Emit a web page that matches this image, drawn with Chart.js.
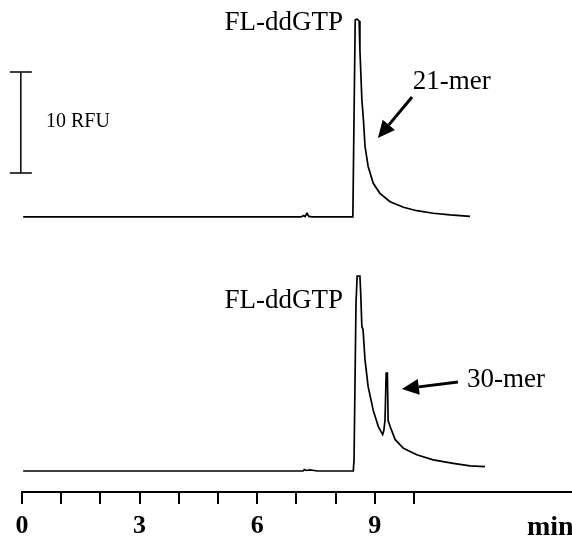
<!DOCTYPE html>
<html><head><meta charset="utf-8">
<script src="https://cdn.jsdelivr.net/npm/chart.js@4/dist/chart.umd.min.js"></script>
<style>html,body{margin:0;padding:0;background:#fff}canvas{display:block}</style>
</head><body>
<canvas id="c" width="572" height="537"></canvas>
<script>
// Electropherograms: time (min) vs fluorescence (RFU)
const topTime = [0.03,1,2,3,4,5,6,7, 7.12,7.18,7.22,7.27,7.32,7.4, 8.0,8.44,8.47,8.50,8.55,8.60,8.62, 8.67,8.71,8.75,8.83,8.96,9.13,9.39,9.73,10.07,10.49,10.92,11.43];
const topRFU  = [0,0,0,0,0,0,0,0, 0,0.15,0.05,0.35,0.05,0, 0,0,10,19.5,19.6,19.4,16.5, 11.6,9.6,7.0,5.0,3.33,2.34,1.51,0.96,0.62,0.37,0.2,0.05];
const botTime = [0.03,1,2,3,4,5,6,7, 7.17,7.2,7.25,7.35,7.45,7.55, 8.0,8.45,8.47,8.52,8.55,8.62,8.64,8.67,8.70,8.75, 8.83,8.96,9.09,9.20,9.23,9.26,9.29,9.32,9.34,9.39, 9.52,9.73,10.07,10.49,11.0,11.43,11.81];
const botRFU  = [0,0,0,0,0,0,0,0, 0,0.15,0.05,0.1,0.05,0, 0,0,1.1,16.6,19.3,19.3,17.6,14.3,14.0,11.0, 8.35,6.0,4.4,3.6,4.0,5.0,9.7,9.7,5.0,4.4, 3.1,2.25,1.6,1.1,0.76,0.5,0.43];
const tickLabels = ['0','3','6','9'];
const TOP_OFFSET = 25.15; // vertical stacking offset of the upper trace (RFU)

const SERIF = '"Liberation Serif","Times New Roman",serif';

const topData = topTime.map((t,i)=>({x:t, y:topRFU[i]+TOP_OFFSET}));
const botData = botTime.map((t,i)=>({x:t, y:botRFU[i]}));

const notes = [
  {text:'FL-ddGTP', t:8.19, v:43.66, align:'right'},
  {text:'21-mer',   t:9.97, v:37.8,  align:'left'},
  {text:'FL-ddGTP', t:8.19, v:16.14, align:'right'},
  {text:'30-mer',   t:11.35, v:8.32, align:'left'}
];
const arrows = [
  {t0:9.95, v0:37.03, t1:9.08, v1:32.97},
  {t0:11.12, v0:8.81, t1:9.69, v1:8.12}
];

const annot = {
  id:'annot',
  afterDraw(chart){
    const {ctx, scales:{x,y}} = chart;
    ctx.save();
    ctx.fillStyle='#000'; ctx.strokeStyle='#000';
    ctx.font = '27px '+SERIF;
    ctx.textBaseline='alphabetic';
    for (const n of notes){
      ctx.textAlign = n.align;
      ctx.fillText(n.text, x.getPixelForValue(n.t), y.getPixelForValue(n.v));
    }
    for (const a of arrows){
      const x0=x.getPixelForValue(a.t0), y0=y.getPixelForValue(a.v0);
      const x1=x.getPixelForValue(a.t1), y1=y.getPixelForValue(a.v1);
      const ang=Math.atan2(y1-y0,x1-x0), L=17, W=8;
      const bx=x1-L*Math.cos(ang), by=y1-L*Math.sin(ang);
      ctx.lineWidth=3; ctx.beginPath(); ctx.moveTo(x0,y0); ctx.lineTo(bx,by); ctx.stroke();
      ctx.beginPath(); ctx.moveTo(x1,y1);
      ctx.lineTo(bx+W*Math.sin(ang), by-W*Math.cos(ang));
      ctx.lineTo(bx-W*Math.sin(ang), by+W*Math.cos(ang));
      ctx.closePath(); ctx.fill();
    }
    // 10 RFU scale bar
    const sx = x.getPixelForValue(-0.03);
    const sTop = y.getPixelForValue(TOP_OFFSET+14.35), sBot = y.getPixelForValue(TOP_OFFSET+4.35);
    ctx.lineWidth=1.5;
    ctx.beginPath();
    ctx.moveTo(sx,sTop); ctx.lineTo(sx,sBot);
    ctx.moveTo(sx-11,sTop); ctx.lineTo(sx+11,sTop);
    ctx.moveTo(sx-11,sBot); ctx.lineTo(sx+11,sBot);
    ctx.stroke();
    ctx.font='20px '+SERIF; ctx.textAlign='left';
    ctx.fillText('10 RFU', x.getPixelForValue(0.61), y.getPixelForValue(TOP_OFFSET+8.9));
    // axis unit
    ctx.font='bold 28px '+SERIF;
    ctx.fillText('min', x.getPixelForValue(12.88), chart.height-2);
    ctx.restore();
  }
};

new Chart(document.getElementById('c'), {
  type:'line',
  data:{datasets:[
    {data:topData, borderColor:'#000', borderWidth:1.7, pointRadius:0, tension:0, fill:false},
    {data:botData, borderColor:'#000', borderWidth:1.7, pointRadius:0, tension:0, fill:false}
  ]},
  options:{
    responsive:false, animation:false,
    layout:{padding:{left:22,right:0,top:0,bottom:0}},
    plugins:{legend:{display:false}, tooltip:{enabled:false}},
    scales:{
      x:{type:'linear', min:0, max:14.03,
        afterBuildTicks(s){ s.ticks = s.ticks.filter(t=>t.value<=10); },
        afterFit(s){ s.height = 45; },
        ticks:{stepSize:1, autoSkip:false, maxRotation:0, padding:7, color:'#000',
          font:{family:SERIF, size:26, weight:'bold'},
          callback:(v)=> tickLabels.includes(String(v)) ? String(v) : ''},
        grid:{drawOnChartArea:false, drawTicks:true, tickLength:12, color:'#000', lineWidth:2},
        border:{display:true, color:'#000', width:2}
      },
      y:{display:false, min:-2.08, max:46.63}
    }
  },
  plugins:[annot]
});
</script>
</body></html>
